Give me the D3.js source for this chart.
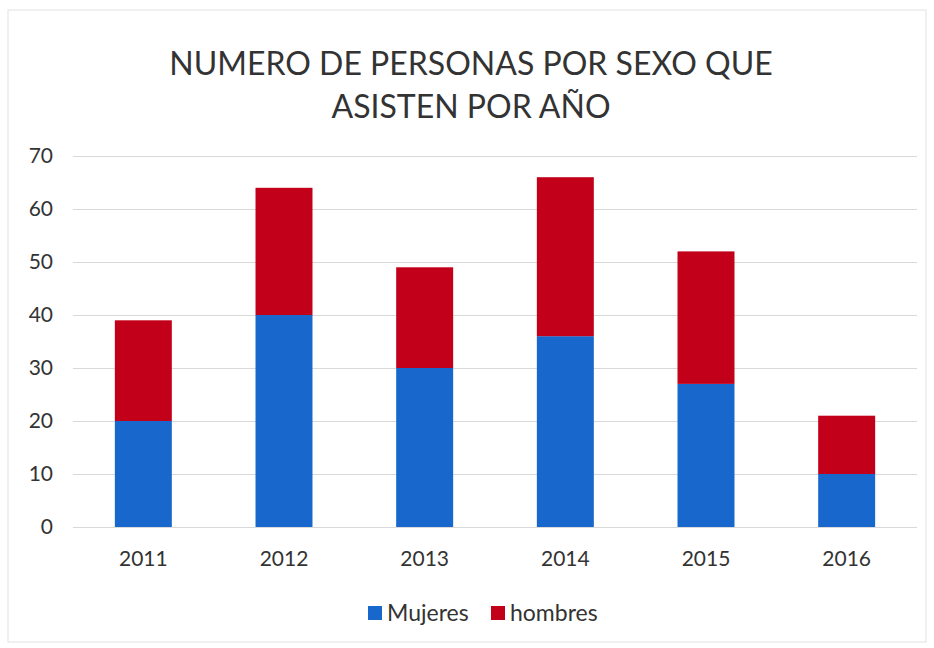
<!DOCTYPE html>
<html lang="es">
<head>
<meta charset="UTF-8">
<title>Personas por sexo</title>
<style>
  body { margin:0; background:#fff; }
  text { font-family: Lato, "Open Sans", sans-serif; fill:#333; }
</style>
</head>
<body>
<script src="https://d3js.org/d3.v7.min.js"></script>
<script>
    var years = ['2011', '2012', '2013', '2014', '2015', '2016'];
    var mujeres = [20, 40, 30, 36, 27, 10];
    var hombres = [19, 24, 19, 30, 25, 11];
    var seriesNames = ['Mujeres', 'hombres'];
    var yTicks = [0, 10, 20, 30, 40, 50, 60, 70];

    var width = 934, height = 648,
        plotLeft = 73, plotRight = 917, plotTop = 156, plotBottom = 527,
        colors = ['#1767cd', '#c2001a'];

    var svg = d3.select('body').append('svg')
        .attr('width', width)
        .attr('height', height);

    // faint frame of the chart area
    svg.append('rect')
        .attr('x', 8).attr('y', 10)
        .attr('width', 918).attr('height', 632)
        .attr('fill', 'none')
        .attr('stroke', '#e2e2e2');

    var rows = years.map(function(y, i) {
        return { year: y, Mujeres: mujeres[i], hombres: hombres[i] };
    });
    var stacked = d3.stack().keys(seriesNames)(rows);

    var xScale = d3.scaleBand()
        .domain(years)
        .range([plotLeft, plotRight])
        .paddingInner(0.595)
        .paddingOuter(0.2975);

    var yScale = d3.scaleLinear()
        .domain([0, 70])
        .range([plotBottom, plotTop]);

    // grid
    svg.append('g')
        .selectAll('line')
        .data(yTicks)
        .enter().append('line')
        .attr('x1', plotLeft).attr('x2', plotRight)
        .attr('y1', function(d) { return yScale(d) + 0.5; })
        .attr('y2', function(d) { return yScale(d) + 0.5; })
        .attr('stroke', '#d9d9d9')
        .attr('stroke-width', 1);

    // y labels
    var yAxis = d3.axisLeft(yScale).tickValues(yTicks).tickSize(0).tickPadding(0);
    svg.append('g')
        .attr('transform', 'translate(53,0)')
        .call(yAxis)
        .call(function(g) {
            g.select('.domain').remove();
            g.selectAll('text')
                .attr('font-size', 21)
                .attr('font-family', 'Lato, sans-serif')
                .attr('fill', '#333');
        });

    // bars
    svg.append('g')
        .selectAll('g')
        .data(stacked)
        .enter().append('g')
        .attr('fill', function(d, i) { return colors[i]; })
        .selectAll('rect')
        .data(function(d) { return d; })
        .enter().append('rect')
        .attr('x', function(d) { return xScale(d.data.year); })
        .attr('y', function(d) { return yScale(d[1]); })
        .attr('width', xScale.bandwidth())
        .attr('height', function(d) { return yScale(d[0]) - yScale(d[1]); });

    // x labels
    var xAxis = d3.axisBottom(xScale).tickSize(0).tickPadding(0);
    svg.append('g')
        .attr('transform', 'translate(0,' + (plotBottom + 24) + ')')
        .call(xAxis)
        .call(function(g) {
            g.select('.domain').remove();
            g.selectAll('text')
                .attr('font-size', 21)
                .attr('font-family', 'Lato, sans-serif')
                .attr('fill', '#333');
        });

    // title
    var title = svg.append('text')
        .attr('text-anchor', 'middle')
        .attr('font-size', 32)
        .attr('fill', '#222');
    title.append('tspan').attr('x', 471).attr('y', 75).text('NUMERO DE PERSONAS POR SEXO QUE');
    title.append('tspan').attr('x', 471).attr('y', 118).text('ASISTEN POR AÑO');

    // legend
    var legend = svg.append('g').attr('transform', 'translate(368,613)');
    var legendX = [0, 123];
    seriesNames.forEach(function(name, i) {
        var item = legend.append('g').attr('transform', 'translate(' + legendX[i] + ',0)');
        item.append('rect')
            .attr('x', 0).attr('y', -7)
            .attr('width', 14).attr('height', 14)
            .attr('fill', colors[i]);
        item.append('text')
            .attr('x', 19).attr('y', 8)
            .attr('font-size', 23)
            .text(name);
    });
</script>
</body>
</html>
